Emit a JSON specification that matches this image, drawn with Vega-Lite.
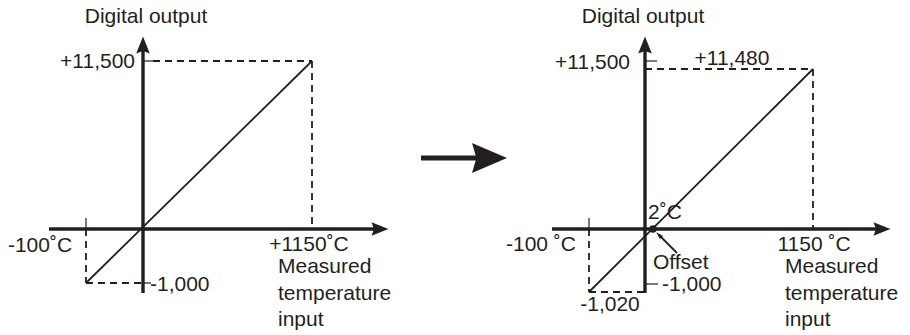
{
  "$schema": "https://vega.github.io/schema/vega-lite/v6.json",
  "width": 910,
  "height": 335,
  "autosize": {"type": "fit", "contains": "padding"},
  "padding": 0,
  "background": "white",
  "config": {"view": {"stroke": null}},
  "datasets": {
    "segments": [
      {"kind": "axis", "x": 143, "y": 293, "x2": 143, "y2": 48},
      {"kind": "axis", "x": 49, "y": 229, "x2": 376, "y2": 229},
      {"kind": "axis", "x": 645, "y": 293, "x2": 645, "y2": 48},
      {"kind": "axis", "x": 552, "y": 229, "x2": 878, "y2": 229},
      {"kind": "bigarrow", "x": 421, "y": 158, "x2": 478, "y2": 158},
      {"kind": "line", "x": 86, "y": 283, "x2": 312, "y2": 61},
      {"kind": "line", "x": 589, "y": 292, "x2": 813, "y2": 69},
      {"kind": "line", "x": 677, "y": 253, "x2": 659, "y2": 235},
      {"kind": "tick", "x": 86, "y": 218, "x2": 86, "y2": 229},
      {"kind": "tick", "x": 143, "y": 283, "x2": 151, "y2": 283},
      {"kind": "tick", "x": 143, "y": 61, "x2": 153, "y2": 61},
      {"kind": "tick", "x": 589, "y": 218, "x2": 589, "y2": 229},
      {"kind": "tick", "x": 645, "y": 61, "x2": 657, "y2": 61},
      {"kind": "tick", "x": 645, "y": 284, "x2": 658, "y2": 284},
      {"kind": "dash", "x": 153, "y": 61, "x2": 312, "y2": 61},
      {"kind": "dash", "x": 312, "y": 61, "x2": 312, "y2": 229},
      {"kind": "dash", "x": 86, "y": 229, "x2": 86, "y2": 283},
      {"kind": "dash", "x": 86, "y": 283, "x2": 143, "y2": 283},
      {"kind": "dash", "x": 645, "y": 69, "x2": 813, "y2": 69},
      {"kind": "dash", "x": 813, "y": 69, "x2": 813, "y2": 229},
      {"kind": "dash", "x": 589, "y": 229, "x2": 589, "y2": 292},
      {"kind": "dash", "x": 589, "y": 292, "x2": 645, "y2": 292}
    ],
    "heads": [
      {"kind": "up", "x": 143, "y": 45},
      {"kind": "right", "x": 380, "y": 229},
      {"kind": "up", "x": 645, "y": 45},
      {"kind": "right", "x": 882, "y": 229},
      {"kind": "big", "x": 489.5, "y": 158},
      {"kind": "small", "x": 659, "y": 235},
      {"kind": "dot", "x": 653, "y": 229}
    ],
    "labels": [
      {"align": "center", "text": "Digital output", "x": 146, "y": 17},
      {"align": "right", "text": "+11,500", "x": 135, "y": 62},
      {"align": "center", "text": "-100˚C", "x": 40, "y": 246},
      {"align": "center", "text": "+1150˚C", "x": 309, "y": 245},
      {"align": "left", "text": "-1,000", "x": 150, "y": 285},
      {"align": "left", "text": "Measured", "x": 278, "y": 267},
      {"align": "left", "text": "temperature", "x": 278, "y": 294},
      {"align": "left", "text": "input", "x": 278, "y": 320},
      {"align": "center", "text": "Digital output", "x": 643, "y": 17},
      {"align": "right", "text": "+11,500", "x": 630, "y": 63},
      {"align": "center", "text": "+11,480", "x": 732, "y": 59},
      {"align": "center", "text": "2˚C", "x": 665, "y": 213},
      {"align": "left", "text": "Offset", "x": 653, "y": 263},
      {"align": "left", "text": "-1,000", "x": 662, "y": 285},
      {"align": "center", "text": "-1,020", "x": 610, "y": 305},
      {"align": "center", "text": "-100 ˚C", "x": 541, "y": 245},
      {"align": "center", "text": "1150 ˚C", "x": 814, "y": 245},
      {"align": "left", "text": "Measured", "x": 785, "y": 267},
      {"align": "left", "text": "temperature", "x": 785, "y": 294},
      {"align": "left", "text": "input", "x": 785, "y": 320}
    ]
  },
  "encoding": {
    "x": {"field": "x", "type": "quantitative", "scale": {"domain": [0, 910], "nice": false, "zero": false}, "axis": null},
    "y": {"field": "y", "type": "quantitative", "scale": {"domain": [0, 335], "nice": false, "zero": false, "reverse": true}, "axis": null}
  },
  "layer": [
    {
      "data": {"name": "segments"},
      "transform": [{"filter": "datum.kind === 'dash'"}],
      "mark": {"type": "rule", "color": "#231f20", "strokeWidth": 1.8, "strokeDash": [7, 5]},
      "encoding": {"x2": {"field": "x2"}, "y2": {"field": "y2"}}
    },
    {
      "data": {"name": "segments"},
      "transform": [{"filter": "datum.kind === 'line'"}],
      "mark": {"type": "rule", "color": "#231f20", "strokeWidth": 1.8},
      "encoding": {"x2": {"field": "x2"}, "y2": {"field": "y2"}}
    },
    {
      "data": {"name": "segments"},
      "transform": [{"filter": "datum.kind === 'tick'"}],
      "mark": {"type": "rule", "color": "#231f20", "strokeWidth": 1.2},
      "encoding": {"x2": {"field": "x2"}, "y2": {"field": "y2"}}
    },
    {
      "data": {"name": "segments"},
      "transform": [{"filter": "datum.kind === 'axis'"}],
      "mark": {"type": "rule", "color": "#231f20", "strokeWidth": 3.4},
      "encoding": {"x2": {"field": "x2"}, "y2": {"field": "y2"}}
    },
    {
      "data": {"name": "segments"},
      "transform": [{"filter": "datum.kind === 'bigarrow'"}],
      "mark": {"type": "rule", "color": "#231f20", "strokeWidth": 5},
      "encoding": {"x2": {"field": "x2"}, "y2": {"field": "y2"}}
    },
    {
      "data": {"name": "heads"},
      "transform": [{"filter": "datum.kind === 'up'"}],
      "mark": {"type": "point", "filled": true, "color": "#231f20", "opacity": 1, "strokeWidth": 0, "size": 289, "shape": "M0,-1L0.8,1L0,0.7L-0.8,1Z"}
    },
    {
      "data": {"name": "heads"},
      "transform": [{"filter": "datum.kind === 'right'"}],
      "mark": {"type": "point", "filled": true, "color": "#231f20", "opacity": 1, "strokeWidth": 0, "size": 289, "shape": "M1,0L-1,-0.8L-0.7,0L-1,0.8Z"}
    },
    {
      "data": {"name": "heads"},
      "transform": [{"filter": "datum.kind === 'big'"}],
      "mark": {"type": "point", "filled": true, "color": "#231f20", "opacity": 1, "strokeWidth": 0, "size": 1225, "shape": "M1,0L-1,-0.86L-0.75,0L-1,0.86Z"}
    },
    {
      "data": {"name": "heads"},
      "transform": [{"filter": "datum.kind === 'small'"}],
      "mark": {"type": "point", "filled": true, "color": "#231f20", "opacity": 1, "strokeWidth": 0, "size": 64, "angle": 225, "shape": "M1,0L-1,-0.6L-0.7,0L-1,0.6Z"}
    },
    {
      "data": {"name": "heads"},
      "transform": [{"filter": "datum.kind === 'dot'"}],
      "mark": {"type": "circle", "color": "#231f20", "opacity": 1, "size": 55}
    },
    {
      "data": {"name": "labels"},
      "transform": [{"filter": "datum.align === 'center'"}],
      "mark": {"type": "text", "align": "center", "baseline": "middle", "font": "Liberation Sans", "fontSize": 21, "color": "#231f20"},
      "encoding": {"text": {"field": "text"}}
    },
    {
      "data": {"name": "labels"},
      "transform": [{"filter": "datum.align === 'left'"}],
      "mark": {"type": "text", "align": "left", "baseline": "middle", "font": "Liberation Sans", "fontSize": 21, "color": "#231f20"},
      "encoding": {"text": {"field": "text"}}
    },
    {
      "data": {"name": "labels"},
      "transform": [{"filter": "datum.align === 'right'"}],
      "mark": {"type": "text", "align": "right", "baseline": "middle", "font": "Liberation Sans", "fontSize": 21, "color": "#231f20"},
      "encoding": {"text": {"field": "text"}}
    }
  ]
}
